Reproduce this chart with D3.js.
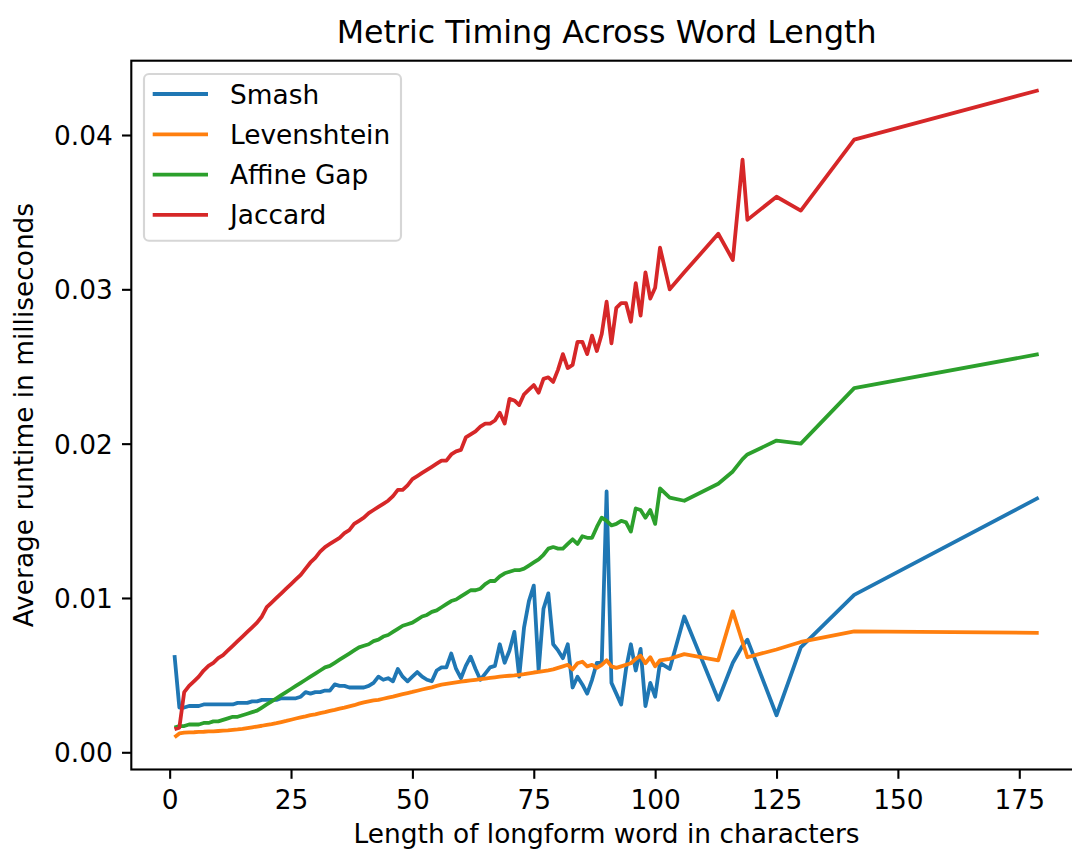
<!DOCTYPE html>
<html>
<head>
<meta charset="utf-8">
<script src="https://cdn.jsdelivr.net/npm/d3@7"></script>
<style>
  html, body { margin: 0; padding: 0; background: #fff; }
  svg { display: block; font-family: "DejaVu Sans", sans-serif; }
</style>
</head>
<body>
<svg id="chart" width="1072" height="852"></svg>
<script>
const lengths = [1,2,3,4,5,6,7,8,9,10,11,12,13,14,15,16,17,18,19,20,
  21,22,23,24,25,26,27,28,29,30,31,32,33,34,35,36,37,38,39,40,
  41,42,43,44,45,46,47,48,49,50,51,52,53,54,55,56,57,58,59,60,
  61,62,63,64,65,66,67,68,69,70,71,72,73,74,75,76,77,78,79,80,
  81,82,83,84,85,86,87,88,89,90,91,92,93,94,95,96,97,98,99,100,
  101,103,106,113,116,118,119,125,130,141,179];

const smash = [0.0063,0.0029,0.0029,0.0030,0.0030,0.0030,0.0031,0.0031,0.0031,0.0031,
  0.0031,0.0031,0.0031,0.0032,0.0032,0.0032,0.0033,0.0033,0.0034,0.0034,
  0.0034,0.0034,0.0035,0.0035,0.0035,0.0035,0.0036,0.0039,0.0038,0.0039,
  0.0039,0.0040,0.0040,0.0044,0.0043,0.0043,0.0042,0.0042,0.0042,0.0042,
  0.0043,0.0045,0.0049,0.0047,0.0048,0.0046,0.0054,0.0049,0.0046,0.0049,
  0.0052,0.0049,0.0047,0.0046,0.0053,0.0055,0.0055,0.0064,0.0054,0.0048,
  0.0056,0.0062,0.0054,0.0047,0.0051,0.0055,0.0056,0.0070,0.0058,0.0066,
  0.0078,0.0049,0.0081,0.0098,0.0108,0.0053,0.0093,0.0103,0.0070,0.0066,
  0.0061,0.0070,0.0042,0.0049,0.0044,0.0038,0.0047,0.0058,0.0058,0.0169,
  0.0045,0.0038,0.0031,0.0054,0.0070,0.0053,0.0067,0.0030,0.0045,0.0036,
  0.0058,0.0054,0.0088,0.0034,0.0058,0.0069,0.0073,0.0024,0.0068,0.0102,0.0165];

const levenshtein = [0.00097,0.00122,0.00127,0.00129,0.0013,0.00132,0.00133,0.00135,0.00136,0.00138,
  0.0014,0.00142,0.00145,0.00148,0.00152,0.00157,0.00162,0.00167,0.00172,0.00178,
  0.00183,0.00189,0.00196,0.00203,0.00211,0.00219,0.00226,0.00233,0.00241,0.00246,
  0.00254,0.0026,0.00268,0.00275,0.00283,0.0029,0.00298,0.00305,0.00315,0.00323,
  0.0033,0.00336,0.0034,0.00347,0.00354,0.00361,0.00369,0.00377,0.00384,0.00391,
  0.00399,0.00407,0.00414,0.00421,0.0043,0.00438,0.00443,0.00448,0.00453,0.00458,
  0.00462,0.00466,0.0047,0.00474,0.00478,0.00482,0.00486,0.0049,0.00493,0.00496,
  0.00498,0.00501,0.00506,0.00512,0.00517,0.00521,0.00526,0.00531,0.00537,0.00547,
  0.00557,0.00567,0.00537,0.00577,0.00587,0.00557,0.00567,0.00547,0.00567,0.00596,
  0.00557,0.00547,0.00557,0.00567,0.00577,0.00606,0.00626,0.00577,0.00616,0.00557,
  0.00596,0.00606,0.00636,0.00596,0.00913,0.00715,0.00616,0.00666,0.00715,0.00784,0.00774];

const affineGap = [0.0016,0.0017,0.0017,0.0018,0.0018,0.0018,0.0019,0.0019,0.0020,0.0020,
  0.0021,0.0022,0.0023,0.0023,0.0024,0.0025,0.0026,0.0027,0.0029,0.0031,
  0.0033,0.0035,0.0037,0.0039,0.0041,0.0043,0.0045,0.0047,0.0049,0.0051,
  0.0053,0.0055,0.0056,0.0058,0.0060,0.0062,0.0064,0.0066,0.0068,0.0069,
  0.0070,0.0072,0.0073,0.0075,0.0076,0.0078,0.0080,0.0082,0.0083,0.0084,
  0.0086,0.0088,0.0089,0.0091,0.0092,0.0094,0.0096,0.0098,0.0099,0.0101,
  0.0103,0.0105,0.0105,0.0106,0.0109,0.0111,0.0111,0.0114,0.0116,0.0117,
  0.0118,0.0118,0.0119,0.0121,0.0123,0.0125,0.0128,0.0132,0.0133,0.0132,
  0.0132,0.0135,0.0138,0.0135,0.0140,0.0139,0.0139,0.0146,0.0152,0.0150,
  0.0147,0.0148,0.0150,0.0149,0.0143,0.0158,0.0157,0.0152,0.0157,0.0148,
  0.0171,0.0165,0.0163,0.0174,0.0182,0.0190,0.0193,0.0202,0.0200,0.0236,0.0258];

const jaccard = [0.0015,0.0016,0.0039,0.0043,0.0046,0.0049,0.0053,0.0056,0.0058,0.0061,
  0.0063,0.0066,0.0069,0.0072,0.0075,0.0078,0.0081,0.0084,0.0088,0.0094,
  0.0097,0.0100,0.0103,0.0106,0.0109,0.0112,0.0115,0.0119,0.0123,0.0126,
  0.0130,0.0133,0.0135,0.0137,0.0139,0.0142,0.0144,0.0148,0.0150,0.0152,
  0.0155,0.0157,0.0159,0.0161,0.0163,0.0166,0.0170,0.0170,0.0173,0.0177,
  0.0179,0.0181,0.0183,0.0185,0.0187,0.0189,0.0189,0.0193,0.0195,0.0196,
  0.0204,0.0206,0.0208,0.0211,0.0213,0.0213,0.0215,0.0220,0.0213,0.0229,
  0.0228,0.0225,0.0232,0.0235,0.0238,0.0233,0.0242,0.0243,0.0240,0.0248,
  0.0258,0.0249,0.0251,0.0266,0.0266,0.0258,0.0270,0.0260,0.0271,0.0292,
  0.0265,0.0288,0.0291,0.0291,0.0279,0.0304,0.0283,0.0311,0.0294,0.0301,
  0.0327,0.0300,0.0311,0.0336,0.0319,0.0384,0.0345,0.0360,0.0351,0.0397,0.0429];

const seriesNames = ["Smash", "Levenshtein", "Affine Gap", "Jaccard"];
const seriesValues = [smash, levenshtein, affineGap, jaccard];
const seriesColors = ["#1f77b4", "#ff7f0e", "#2ca02c", "#d62728"];

const xTicks = [0, 25, 50, 75, 100, 125, 150, 175];
const yTicks = [0.00, 0.01, 0.02, 0.03, 0.04];

const titleText = "Metric Timing Across Word Length";
const xLabel = "Length of longform word in characters";
const yLabel = "Average runtime in milliseconds";

const svg = d3.select("#chart");
const L = 131.3, R = 1081.9, T = 60.7, B = 769.5;
const FS = 26.4;

const x = d3.scaleLinear().domain([-7.9, 187.9]).range([L, R]);
const y = d3.scaleLinear().domain([-0.001115, 0.044815]).range([B, T]);

// lines
const line = d3.line().x(d => x(d[0])).y(d => y(d[1]));
seriesValues.forEach((vals, i) => {
  const pts = lengths.map((l, j) => [l, vals[j]]);
  svg.append("path")
    .attr("d", line(pts))
    .attr("fill", "none")
    .attr("stroke", seriesColors[i])
    .attr("stroke-width", 3.8)
    .attr("stroke-linejoin", "round")
    .attr("stroke-linecap", "butt");
});

// axes
const xAxis = d3.axisBottom(x).tickValues(xTicks).tickFormat(d3.format("d")).tickSize(9.3).tickPadding(9.2);
const yAxis = d3.axisLeft(y).tickValues(yTicks).tickFormat(d3.format(".2f")).tickSize(9.3).tickPadding(9.2);

const gx = svg.append("g").attr("transform", `translate(0,${B})`).call(xAxis);
const gy = svg.append("g").attr("transform", `translate(${L},0)`).call(yAxis);
[gx, gy].forEach(g => {
  g.select(".domain").remove();
  g.selectAll(".tick line").attr("stroke", "#000").attr("stroke-width", 2.1);
  g.selectAll(".tick text").attr("fill", "#000")
    .style("font-size", FS + "px").style("font-family", "DejaVu Sans");
});
gx.selectAll(".tick text").attr("dy", null).attr("y", 39.5);
gy.selectAll(".tick text").attr("dy", "0.36em");

// spines
svg.append("rect")
  .attr("x", L).attr("y", T).attr("width", R - L).attr("height", B - T)
  .attr("fill", "none").attr("stroke", "#000").attr("stroke-width", 2.1);

// title & labels
svg.append("text").attr("x", (L + R) / 2).attr("y", 43)
  .attr("text-anchor", "middle").style("font-size", "31.7px").attr("fill", "#000")
  .text(titleText);
svg.append("text").attr("x", (L + R) / 2).attr("y", 843)
  .attr("text-anchor", "middle").style("font-size", FS + "px").attr("fill", "#000")
  .text(xLabel);
svg.append("text")
  .attr("transform", `translate(33,${(T + B) / 2}) rotate(-90)`)
  .attr("text-anchor", "middle").style("font-size", FS + "px").attr("fill", "#000")
  .text(yLabel);

// legend
const lg = svg.append("g");
lg.append("rect")
  .attr("x", 144).attr("y", 74).attr("width", 257).attr("height", 166.7)
  .attr("rx", 5).attr("ry", 5)
  .attr("fill", "#fff").attr("fill-opacity", 0.8)
  .attr("stroke", "#cccccc").attr("stroke-opacity", 0.8).attr("stroke-width", 2.1);
seriesNames.forEach((name, i) => {
  const yy = 94 + i * 40.3;
  lg.append("line").attr("x1", 152.7).attr("x2", 208).attr("y1", yy).attr("y2", yy)
    .attr("stroke", seriesColors[i]).attr("stroke-width", 3.8);
  lg.append("text").attr("x", 230).attr("y", yy).attr("dy", "0.36em")
    .style("font-size", FS + "px").attr("fill", "#000").text(name);
});
</script>
</body>
</html>
